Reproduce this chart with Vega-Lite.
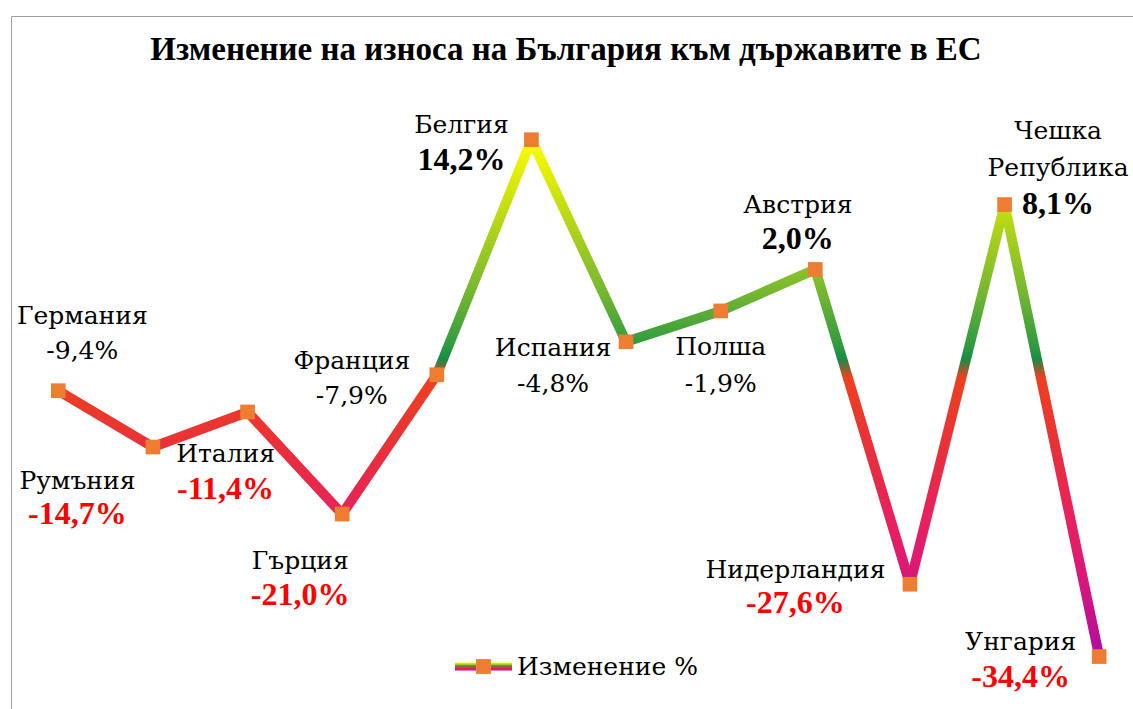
{
  "$schema": "https://vega.github.io/schema/vega-lite/v6.json",
  "width": 1122,
  "height": 693,
  "autosize": {"type": "none"},
  "padding": {"left": 11, "top": 16, "right": 0, "bottom": 0},
  "background": "#ffffff",
  "config": {
    "view": {"stroke": "#a0a0a0", "strokeWidth": 1},
    "font": "DejaVu Serif",
    "text": {"font": "DejaVu Serif", "fontSize": 25, "color": "#000000", "align": "center", "baseline": "alphabetic", "lineHeight": 37, "lineBreak": " "},
    "locale": {"number": {"decimal": ",", "thousands": " ", "grouping": [3], "currency": ["", ""], "minus": "-", "percent": "%"}}
  },
  "title": {
    "text": "Изменение на износа на България към държавите в ЕС",
    "font": "Liberation Serif, DejaVu Serif",
    "fontSize": 33,
    "fontWeight": "bold",
    "color": "#000000",
    "anchor": "middle",
    "frame": "group",
    "baseline": "alphabetic",
    "offset": -77,
    "dx": -6
  },
  "data": {
    "values": [
      {"c": "Германия", "v": -0.094},
      {"c": "Румъния", "v": -0.147},
      {"c": "Италия", "v": -0.114},
      {"c": "Гърция", "v": -0.21},
      {"c": "Франция", "v": -0.079},
      {"c": "Белгия", "v": 0.142},
      {"c": "Испания", "v": -0.048},
      {"c": "Полша", "v": -0.019},
      {"c": "Австрия", "v": 0.02},
      {"c": "Нидерландия", "v": -0.276},
      {"c": "Чешка Република", "v": 0.081},
      {"c": "Унгария", "v": -0.344}
    ]
  },
  "encoding": {
    "x": {"field": "c", "type": "nominal", "sort": null, "axis": null, "scale": {"type": "point", "range": [47.3, 1088.2], "padding": 0}},
    "y": {"field": "v", "type": "quantitative", "axis": null, "scale": {"domain": [-0.3933, 0.2583], "nice": false, "zero": false}}
  },
  "layer": [
    {
      "data": {"values": [{}]},
      "mark": {"type": "rule", "color": "#a0a0a0", "strokeWidth": 1},
      "encoding": {"x": null, "y": {"datum": 0, "type": "quantitative"}}
    },
    {
      "mark": {
        "type": "line",
        "strokeWidth": 10,
        "strokeJoin": "round",
        "stroke": {
          "gradient": "linear",
          "x1": 0, "y1": 0, "x2": 0, "y2": 1,
          "stops": [
            {"offset": 0, "color": "#ffff00"},
            {"offset": 0.12, "color": "#c8e010"},
            {"offset": 0.29, "color": "#78b830"},
            {"offset": 0.40, "color": "#2e9a40"},
            {"offset": 0.425, "color": "#1a8a48"},
            {"offset": 0.46, "color": "#ee4020"},
            {"offset": 0.60, "color": "#e8303a"},
            {"offset": 0.74, "color": "#e82060"},
            {"offset": 0.85, "color": "#d81878"},
            {"offset": 1, "color": "#b00ca0"}
          ]
        }
      }
    },
    {
      "mark": {
        "type": "point",
        "filled": true,
        "opacity": 0,
        "size": 1,
        "fill": {
          "gradient": "linear",
          "x1": 0, "y1": 0, "x2": 0, "y2": 1,
          "stops": [
            {"offset": 0, "color": "#ffff00"},
            {"offset": 0.3, "color": "#8cc228"},
            {"offset": 0.45, "color": "#1a8a48"},
            {"offset": 0.55, "color": "#ee4020"},
            {"offset": 0.75, "color": "#e82060"},
            {"offset": 1, "color": "#b00ca0"}
          ]
        }
      },
      "encoding": {
        "shape": {
          "datum": "Изменение % ",
          "type": "nominal",
          "scale": {"range": ["M-1,-0.14H-0.26V0.14H-1Z M0.26,-0.14H1V0.14H0.26Z"]},
          "legend": {
            "title": null,
            "orient": "none",
            "legendX": 444,
            "legendY": 622,
            "padding": 0,
            "labelFont": "DejaVu Serif",
            "labelFontSize": 25,
            "labelColor": "#000000",
            "labelOpacity": 0,
            "labelLimit": 400,
            "labelOffset": 5,
            "symbolSize": 3249,
            "symbolStrokeWidth": 0,
            "symbolOpacity": 1
          }
        }
      }
    },
    {
      "mark": {"type": "point", "shape": "square", "filled": true, "size": 215, "opacity": 1},
      "encoding": {
        "color": {
          "datum": "Изменение %",
          "type": "nominal",
          "scale": {"range": ["#ed7d31"]},
          "legend": {
            "title": null,
            "orient": "none",
            "legendX": 444,
            "legendY": 622,
            "padding": 0,
            "labelFont": "DejaVu Serif",
            "labelFontSize": 25,
            "labelColor": "#000000",
            "labelLimit": 400,
            "labelOffset": 5,
            "symbolType": "M-0.26,-0.26H0.26V0.26H-0.26Z",
            "symbolSize": 3249,
            "symbolStrokeWidth": 0,
            "symbolOpacity": 1
          }
        }
      }
    },
    {"transform": [{"filter": "datum.c == 'Германия'"}], "layer": [
      {"mark": {"type": "text", "dx": 24, "dy": -67}, "encoding": {"text": {"field": "c"}}},
      {"mark": {"type": "text", "dx": 24, "dy": -32}, "encoding": {"text": {"field": "v", "type": "quantitative", "format": ".1%"}}}
    ]},
    {"transform": [{"filter": "datum.c == 'Румъния'"}], "layer": [
      {"mark": {"type": "text", "dx": -75.5, "dy": 42}, "encoding": {"text": {"field": "c"}}},
      {"mark": {"type": "text", "dx": -75.5, "dy": 76.5, "font": "Liberation Serif", "fontSize": 32, "fontWeight": "bold", "color": "#ff0000"}, "encoding": {"text": {"field": "v", "type": "quantitative", "format": ".1%"}}}
    ]},
    {"transform": [{"filter": "datum.c == 'Италия'"}], "layer": [
      {"mark": {"type": "text", "dx": -22, "dy": 50}, "encoding": {"text": {"field": "c"}}},
      {"mark": {"type": "text", "dx": -22, "dy": 87, "font": "Liberation Serif", "fontSize": 32, "fontWeight": "bold", "color": "#ff0000"}, "encoding": {"text": {"field": "v", "type": "quantitative", "format": ".1%"}}}
    ]},
    {"transform": [{"filter": "datum.c == 'Гърция'"}], "layer": [
      {"mark": {"type": "text", "dx": -42, "dy": 55}, "encoding": {"text": {"field": "c"}}},
      {"mark": {"type": "text", "dx": -42, "dy": 91, "font": "Liberation Serif", "fontSize": 32, "fontWeight": "bold", "color": "#ff0000"}, "encoding": {"text": {"field": "v", "type": "quantitative", "format": ".1%"}}}
    ]},
    {"transform": [{"filter": "datum.c == 'Франция'"}], "layer": [
      {"mark": {"type": "text", "dx": -85, "dy": -6}, "encoding": {"text": {"field": "c"}}},
      {"mark": {"type": "text", "dx": -85, "dy": 29.5}, "encoding": {"text": {"field": "v", "type": "quantitative", "format": ".1%"}}}
    ]},
    {"transform": [{"filter": "datum.c == 'Белгия'"}], "layer": [
      {"mark": {"type": "text", "dx": -70, "dy": -6.5}, "encoding": {"text": {"field": "c"}}},
      {"mark": {"type": "text", "dx": -70, "dy": 30, "font": "Liberation Serif", "fontSize": 32, "fontWeight": "bold"}, "encoding": {"text": {"field": "v", "type": "quantitative", "format": ".1%"}}}
    ]},
    {"transform": [{"filter": "datum.c == 'Испания'"}], "layer": [
      {"mark": {"type": "text", "dx": -73, "dy": 14}, "encoding": {"text": {"field": "c"}}},
      {"mark": {"type": "text", "dx": -73, "dy": 50.5}, "encoding": {"text": {"field": "v", "type": "quantitative", "format": ".1%"}}}
    ]},
    {"transform": [{"filter": "datum.c == 'Полша'"}], "layer": [
      {"mark": {"type": "text", "dx": 0, "dy": 44.5}, "encoding": {"text": {"field": "c"}}},
      {"mark": {"type": "text", "dx": 0, "dy": 81.5}, "encoding": {"text": {"field": "v", "type": "quantitative", "format": ".1%"}}}
    ]},
    {"transform": [{"filter": "datum.c == 'Австрия'"}], "layer": [
      {"mark": {"type": "text", "dx": -17.5, "dy": -56.5}, "encoding": {"text": {"field": "c"}}},
      {"mark": {"type": "text", "dx": -17.5, "dy": -20.5, "font": "Liberation Serif", "fontSize": 32, "fontWeight": "bold"}, "encoding": {"text": {"field": "v", "type": "quantitative", "format": ".1%"}}}
    ]},
    {"transform": [{"filter": "datum.c == 'Нидерландия'"}], "layer": [
      {"mark": {"type": "text", "dx": -114.5, "dy": -6}, "encoding": {"text": {"field": "c"}}},
      {"mark": {"type": "text", "dx": -114.5, "dy": 29, "font": "Liberation Serif", "fontSize": 32, "fontWeight": "bold", "color": "#ff0000"}, "encoding": {"text": {"field": "v", "type": "quantitative", "format": ".1%"}}}
    ]},
    {"transform": [{"filter": "datum.c == 'Чешка Република'"}], "layer": [
      {"mark": {"type": "text", "dx": 53.5, "dy": -66}, "encoding": {"text": {"field": "c"}}},
      {"mark": {"type": "text", "dx": 53.5, "dy": 9, "font": "Liberation Serif", "fontSize": 32, "fontWeight": "bold"}, "encoding": {"text": {"field": "v", "type": "quantitative", "format": ".1%"}}}
    ]},
    {"transform": [{"filter": "datum.c == 'Унгария'"}], "layer": [
      {"mark": {"type": "text", "dx": -78.5, "dy": -7}, "encoding": {"text": {"field": "c"}}},
      {"mark": {"type": "text", "dx": -78.5, "dy": 30, "font": "Liberation Serif", "fontSize": 32, "fontWeight": "bold", "color": "#ff0000"}, "encoding": {"text": {"field": "v", "type": "quantitative", "format": ".1%"}}}
    ]}
  ]
}
